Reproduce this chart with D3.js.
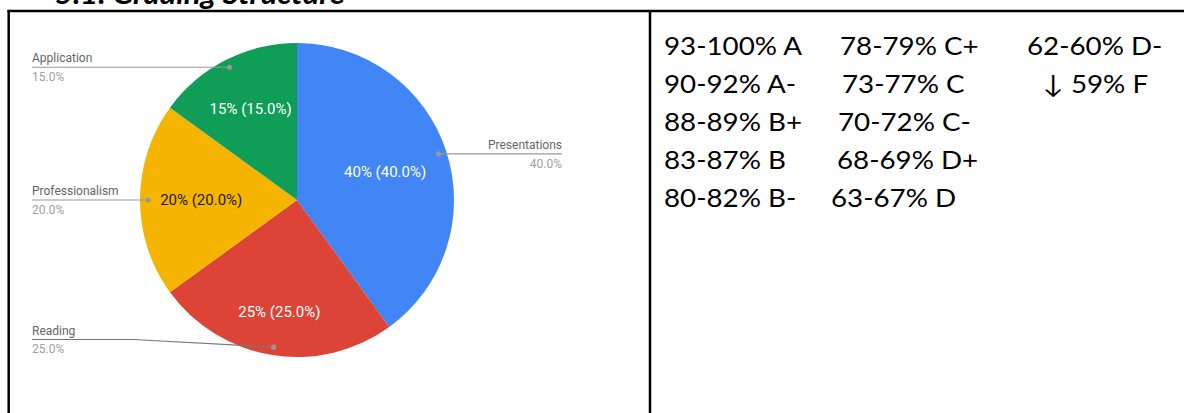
<!DOCTYPE html>
<html>
<head>
<meta charset="utf-8">
<script src="https://cdn.jsdelivr.net/npm/d3@7/dist/d3.min.js"></script>
<style>
    body { margin: 0; background: #fff; }
    svg { display: block; }
</style>
</head>
<body>
<svg width="1184" height="413"></svg>
<script>
// Pie data
var categories = ["Presentations", "Reading", "Professionalism", "Application"];
var shares = [40, 25, 20, 15];
var sliceColors = ["#4285F4", "#DB4437", "#F4B400", "#0F9D58"];

// Grading scale text
var gradeRanges = ["93-100%", "90-92%", "88-89%", "83-87%", "80-82%",
    "78-79%", "73-77%", "70-72%", "68-69%", "63-67%",
    "62-60%", "\u2193 59%"];
var gradeLetters = ["A", "A-", "B+", "B", "B-",
    "C+", "C", "C-", "D+", "D",
    "D-", "F"];

var svg = d3.select("svg");

// Table frame
svg.append("line").attr("x1", 7.5).attr("x2", 1184).attr("y1", 11).attr("y2", 11)
    .style("stroke", "black").style("stroke-width", 2.5);
svg.append("line").attr("x1", 8.7).attr("x2", 8.7).attr("y1", 10).attr("y2", 413)
    .style("stroke", "black").style("stroke-width", 2.5);
svg.append("line").attr("x1", 650).attr("x2", 650).attr("y1", 10).attr("y2", 413)
    .style("stroke", "black").style("stroke-width", 2.5);

// Heading, cut off by the top of the picture
var title = svg.append("text")
    .text("5.1. Grading Structure")
    .style("font-family", "Lato, 'Open Sans', sans-serif")
    .style("font-weight", "bold")
    .style("font-style", "italic")
    .style("font-size", "28px")
    .style("fill", "black");
var titleScale = 290 / title.node().getComputedTextLength();
title.attr("transform", "translate(55,4) scale(" + titleScale + ",1)");

// Pie
var cx = 297, cy = 200, radius = 157;
var g = svg.append("g").attr("transform", "translate(" + cx + "," + cy + ")");

var pieData = d3.pie().sort(null).value(d => d)(shares);
var arc = d3.arc().innerRadius(0).outerRadius(radius);

g.selectAll("path.slice")
    .data(pieData)
    .enter()
    .append("path")
    .attr("class", "slice")
    .attr("d", arc)
    .attr("fill", (d, i) => sliceColors[i]);

// where Google pushed each inside label along its slice
var labelRadius = { "Presentations": 0.59, "Reading": 0.72, "Professionalism": 0.61, "Application": 0.65 };

function midAngle(d) { return (d.startAngle + d.endAngle) / 2; }

g.selectAll("text.inside")
    .data(pieData)
    .enter()
    .append("text")
    .attr("class", "inside")
    .attr("x", d => Math.sin(midAngle(d)) * radius * labelRadius[categories[d.index]])
    .attr("y", d => -Math.cos(midAngle(d)) * radius * labelRadius[categories[d.index]])
    .attr("dy", "0.35em")
    .attr("text-anchor", "middle")
    .style("font-family", "Roboto, sans-serif")
    .style("font-size", "15px")
    .style("fill", (d, i) => i === 2 ? "#1a1a1a" : "#ffffff")
    .text(d => d.value + "% (" + d.value.toFixed(1) + "%)");

// Outside labels with leader lines
var leftX = 32, rightX = 562, maxLabelY = 339.5;
var dotRadius = radius - 8;

pieData.forEach(function (d) {
    var a = midAngle(d);
    var dx = cx + Math.sin(a) * dotRadius;
    var dy = cy - Math.cos(a) * dotRadius;
    var onLeft = a > Math.PI;
    var lx = onLeft ? leftX : rightX;
    var ly = Math.min(dy, maxLabelY);

    var pts = [[lx, ly]];
    if (Math.abs(ly - dy) > 0.5) pts.push([lx + 101, ly]);
    pts.push([dx, dy]);

    svg.append("path")
        .attr("d", d3.line()(pts))
        .attr("fill", "none")
        .style("stroke", Math.abs(ly - dy) > 0.5 ? "#777777" : "#999999")
        .style("stroke-width", 1.2);

    svg.append("circle")
        .attr("cx", dx).attr("cy", dy).attr("r", 2.6)
        .attr("fill", "#999999");

    svg.append("text")
        .attr("x", lx).attr("y", ly - 5)
        .attr("text-anchor", onLeft ? "start" : "end")
        .style("font-family", "Roboto, sans-serif")
        .style("font-size", "12px")
        .style("fill", "#666666")
        .text(categories[d.index]);

    svg.append("text")
        .attr("x", lx).attr("y", ly + 13.8)
        .attr("text-anchor", onLeft ? "start" : "end")
        .style("font-family", "Roboto, sans-serif")
        .style("font-size", "12px")
        .style("fill", "#9e9e9e")
        .text(d.value.toFixed(1) + "%");
});

// Grading scale, three columns of five rows
var gradeX = [664, 664, 664, 664, 664, 840, 842, 838, 837, 831, 1027, 1043];
var rowTop = 55, rowStep = 38;

var grades = svg.selectAll("text.grade")
    .data(gradeRanges)
    .enter()
    .append("text")
    .attr("class", "grade")
    .style("font-family", "Lato, Carlito, sans-serif")
    .style("font-size", "25px")
    .style("fill", "black")
    .text((d, i) => d + " " + gradeLetters[i]);

var gradeScale = 138 / grades.nodes()[0].getComputedTextLength();
grades.attr("transform", (d, i) =>
    "translate(" + gradeX[i] + "," + (rowTop + (i % 5) * rowStep) + ") scale(" + gradeScale + ",1)");
</script>
</body>
</html>
